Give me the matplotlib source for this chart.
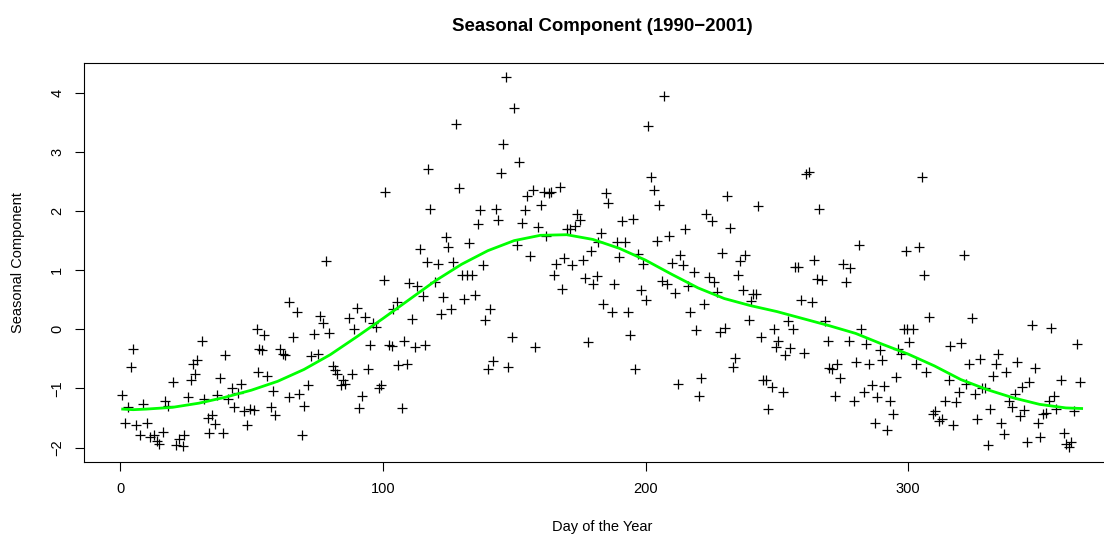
import matplotlib
matplotlib.use("Agg")
import matplotlib.pyplot as plt

plt.rcParams['font.family'] = ['Liberation Sans', 'DejaVu Sans']

# Daily seasonal component values (day of year, value)
days = [
    0.9, 1.9, 3.2, 4.1, 5.1, 6.1, 7.6, 8.9, 10.2, 11.4, 12.9, 14.2, 15.0, 16.2, 17.1, 18.4,
    20.1, 21.3, 22.6, 24.1, 24.4, 26.0, 27.0, 27.9, 28.5, 29.4, 31.2, 32.1, 33.6, 34.0, 34.9,
    36.2, 36.8, 38.1, 39.1, 40.0, 41.2, 42.5, 43.4, 45.0, 46.1, 47.3, 48.2, 49.5, 50.8, 52.0,
    52.7, 53.0,
    54.2, 54.8, 56.1, 57.4, 58.2, 59.0, 60.9, 62.2, 62.8, 64.3, 64.5, 66.0, 67.3, 68.3, 69.2,
    70.1, 71.4, 72.6, 74.0, 75.2, 76.3, 77.2, 78.4, 79.4, 81.0, 81.9, 82.7, 84.0, 85.0, 85.7,
    87.0, 88.3, 89.2, 90.1, 91.1, 92.0, 93.3, 94.2, 95.2, 96.2, 97.3, 98.4, 99.2, 100.3, 100.9,
    102.5, 103.4, 104.0, 105.3, 105.9, 107.2, 108.1, 109.1, 110.1, 111.0, 112.1, 113.2, 114.2,
    115.2, 116.1, 116.8, 117.4, 118.0,
    119.9, 121.2, 122.8, 122.1, 124.1, 125.0, 125.9, 126.9, 128.0, 129.2, 130.1, 131.1, 132.2,
    133.0, 133.9, 135.2, 136.1, 137.1, 138.1, 139.0, 140.2, 140.9, 142.1, 143.2, 144.0, 145.1,
    145.9, 146.9, 147.8, 149.1, 150.1, 151.0, 152.0, 153.1, 154.1, 154.8, 156.1, 157.0, 158.1,
    159.1, 160.1, 161.2, 162.2, 163.2, 164.1, 165.0, 166.0, 167.3, 168.2, 169.0, 170.0, 171.1,
    172.1, 173.0, 173.9, 175.2, 176.3, 177.0, 178.0, 179.2, 180.2, 181.5, 182.1,
    183.1, 184.0, 185.0, 185.9, 187.2, 188.1, 189.0, 190.1, 190.9, 192.3, 193.2, 194.2, 195.2,
    196.1, 197.1, 198.2, 199.0, 200.2, 201.1, 202.0, 203.1, 204.3, 205.2, 206.2, 207.2, 208.1,
    209.1, 210.2, 211.3, 212.2, 213.2, 214.2, 215.2, 216.1, 217.0, 218.3, 219.3, 220.2, 221.3,
    222.1, 223.1, 224.1, 225.3, 226.1, 227.1, 228.2, 229.3, 230.2, 231.2, 232.2, 233.3, 234.2,
    235.1, 236.0, 237.1, 238.0, 239.3, 240.1, 241.1, 242.0, 243.0, 244.0, 244.9, 245.9, 246.8,
    248.1, 248.9, 249.8, 250.6, 252.3, 253.2, 254.1, 255.1, 256.1, 257.0, 257.9, 259.1, 260.2,
    261.0, 262.1, 263.3, 264.2, 265.2, 266.2, 267.1, 268.2, 269.3, 270.0, 270.9, 272.2, 273.0,
    274.1, 275.1, 276.4, 277.3, 277.9, 279.2, 280.2, 281.1, 282.1, 283.0, 284.0, 285.0, 286.2,
    287.2, 288.1, 289.1, 290.1, 290.9, 291.9, 293.2, 294.2, 295.2, 296.2, 297.2, 298.2, 299.1,
    299.5, 300.4, 302.0, 302.8, 304.2, 305.2, 306.1, 306.9, 307.9, 309.5, 310.3, 311.6,
    312.8, 314.1, 315.4, 316.0, 317.0, 318.3, 319.2, 320.1, 321.1, 322.1, 323.3, 324.2, 325.3,
    326.2, 327.2, 328.2, 329.3, 330.2, 331.2, 332.3, 333.3, 334.2, 335.2, 336.3, 337.3, 338.2,
    339.5, 340.5, 341.4, 342.4, 343.3, 344.2, 345.2, 346.1, 347.2, 348.3, 349.2, 350.3, 351.3,
    352.3, 353.4, 354.3, 355.3, 356.3, 358.2, 359.1, 360.2, 361.1, 361.9, 363.2, 364.2, 365.5,
]
values = [
    -1.11, -1.59, -1.31, -0.63, -0.34, -1.62, -1.79, -1.27, -1.58, -1.83, -1.79, -1.89, -1.94,
    -1.73, -1.22, -1.30, -0.90, -1.95, -1.86, -1.97, -1.79, -1.15, -0.85, -0.58, -0.75, -0.52,
    -0.20, -1.18, -1.50, -1.75, -1.45, -1.60, -1.11, -0.82, -1.75, -0.43, -1.18, -0.99, -1.32,
    -1.07, -0.93, -1.38, -1.62, -1.35, -1.36, 0.01, -0.73, -0.34,
    -0.35, -0.09, -0.79, -1.32, -1.05, -1.45, -0.33, -0.42, -0.44, 0.46, -1.14, -0.13, 0.29,
    -1.10, -1.79, -1.30, -0.95, -0.45, -0.08, -0.41, 0.22, 0.11, 1.15, -0.06, -0.62, -0.69,
    -0.76, -0.95, -0.85, -0.92, 0.19, -0.75, 0.00, 0.36, -1.34, -1.13, 0.21, -0.68, -0.26,
    0.11, 0.04, -1.00, -0.95, 0.84, 2.33, -0.27, -0.28, 0.34, 0.46, -0.60, -1.34, -0.19, -0.58,
    0.79, 0.17, -0.30, 0.74, 1.36, 0.56, -0.26, 1.14, 2.72, 2.04,
    0.80, 1.11, 0.54, 0.26, 1.56, 1.40, 0.34, 1.14, 3.47, 2.39, 0.91, 0.52, 0.91, 1.46, 0.91,
    0.58, 1.78, 2.02, 1.09, 0.15, -0.68, 0.35, -0.53, 2.04, 1.85, 2.64, 3.13, 4.26, -0.64,
    -0.13, 3.74, 1.42, 2.83, 1.80, 2.02, 2.26, 1.24, 2.36, -0.30, 1.73, 2.10, 2.32, 1.58, 2.31,
    2.33, 0.91, 1.11, 2.40, 0.68, 1.20, 1.69, 1.69, 1.08, 1.74, 1.95, 1.85, 1.18, 0.86, -0.21,
    1.32, 0.77, 0.90, 1.48,
    1.63, 0.42, 2.30, 2.13, 0.29, 0.76, 1.47, 1.22, 1.83, 1.47, 0.30, -0.09, 1.87, -0.68, 1.27,
    0.67, 1.11, 0.50, 3.44, 2.58, 2.36, 1.49, 2.11, 0.81, 3.94, 0.77, 1.57, 1.12, 0.62, -0.92,
    1.26, 1.09, 1.69, 0.73, 0.30, 0.97, -0.02, -1.13, -0.83, 0.43, 1.95, 0.88, 1.83, 0.80, 0.63,
    -0.04, 1.29, 0.03, 2.25, 1.71, -0.63, -0.49, 0.92, 1.16, 0.66, 1.26, 0.15, 0.48, 0.60, 0.59,
    2.09, -0.13, -0.85, -0.86, -1.35,
    -0.97, 0.01, -0.30, -0.19, -1.06, -0.44, 0.14, -0.31, 0.01, 1.06, 1.05, 0.50, -0.40, 2.62,
    2.66, 0.47, 1.17, 0.85, 2.04, 0.84, 0.14, -0.20, -0.65, -0.68, -1.13, -0.58, -0.82, 1.11,
    0.80, -0.20, 1.04, -1.21, -0.56, 1.42, 0.01, -1.06, -0.25, -0.59, -0.95, -1.58, -1.15,
    -0.35, -0.52, -0.96, -1.71, -1.21, -1.44, -0.80, -0.33, -0.41, 0.00, 1.33, 0.01, -0.21,
    0.01, -0.59, 1.39, 2.57, 0.91, -0.72, 0.21, -1.44, -1.38, -1.55,
    -1.52, -1.21, -0.86, -0.28, -1.62, -1.23, -1.06, -0.23, 1.25, -0.93, -0.58, 0.19, -1.09,
    -1.52, -0.50, -0.99, -1.00, -1.96, -1.35, -0.79, -0.58, -0.41, -1.58, -1.77, -0.73, -1.21,
    -1.32, -1.09, -0.55, -1.46, -0.98, -1.37, -1.90, -0.90, 0.07, -0.65, -1.58, -1.83, -1.43,
    -1.42, -1.21, 0.03, -1.13, -1.35, -0.85, -1.75, -1.94, -1.99, -1.90, -1.38, -0.25, -0.89,
]

# Smoothed seasonal curve
smooth_days = [1, 5, 10, 20, 30, 40, 50, 60, 70, 80, 90, 100, 110, 120, 130, 140, 150, 160,
               170, 180, 190, 200, 210, 220, 230, 240, 250, 260, 270, 280, 290, 300, 310, 320,
               330, 340, 350, 360, 366]
smooth_vals = [-1.35, -1.36, -1.35, -1.32, -1.25, -1.15, -1.03, -0.88, -0.68, -0.43, -0.13,
               0.18, 0.50, 0.82, 1.10, 1.33, 1.50, 1.59, 1.60, 1.52, 1.37, 1.17, 0.93, 0.70,
               0.52, 0.40, 0.30, 0.18, 0.06, -0.07, -0.25, -0.42, -0.62, -0.85, -1.02, -1.16,
               -1.27, -1.33, -1.34]

x_ticks = [0, 100, 200, 300]
y_ticks = [-2, -1, 0, 1, 2, 3, 4]

W, H = 1104, 536
fig = plt.figure(figsize=(W / 100, H / 100), dpi=100)
left_px, right_px, top_px, bottom_px = 84.3, 1120.0, 62.7, 461.7
ax = fig.add_axes([left_px / W, 1 - bottom_px / H,
                   (right_px - left_px) / W, (bottom_px - top_px) / H])

ax.plot(days, values, linestyle='none', marker='+', markersize=7.2,
        markeredgewidth=0.9, color='black')
ax.plot(smooth_days, smooth_vals, color='#00FF00', linewidth=2.0)

xr = (1, 366)
pad_x = 0.04 * (xr[1] - xr[0])
ax.set_xlim(xr[0] - pad_x, xr[1] + pad_x)
yr = (min(values), max(values))
pad_y = 0.04 * (yr[1] - yr[0])
ax.set_ylim(yr[0] - pad_y, yr[1] + pad_y)

ax.set_xticks(x_ticks)
ax.set_yticks(y_ticks)
ax.tick_params(axis='both', direction='out', length=6.5, width=0.8, labelsize=10.5,
               pad=8, color='black')
for lab in ax.get_yticklabels():
    lab.set_rotation(90)
    lab.set_va('center')
for s in ax.spines.values():
    s.set_linewidth(0.8)
    s.set_color('black')

fig.text((left_px + right_px) / 2 / W, 1 - 30.7 / H, 'Seasonal Component (1990\u22122001)',
         ha='center', va='baseline', fontsize=13.4, fontweight='bold')
fig.text((left_px + right_px) / 2 / W, 1 - 531.5 / H, 'Day of the Year',
         ha='center', va='baseline', fontsize=10.5)
fig.text(18.5 / W, 1 - (top_px + bottom_px) / 2 / H, 'Seasonal Component',
         ha='center', va='center', rotation=90, fontsize=10.5)

fig.savefig('out.png', dpi=100)
